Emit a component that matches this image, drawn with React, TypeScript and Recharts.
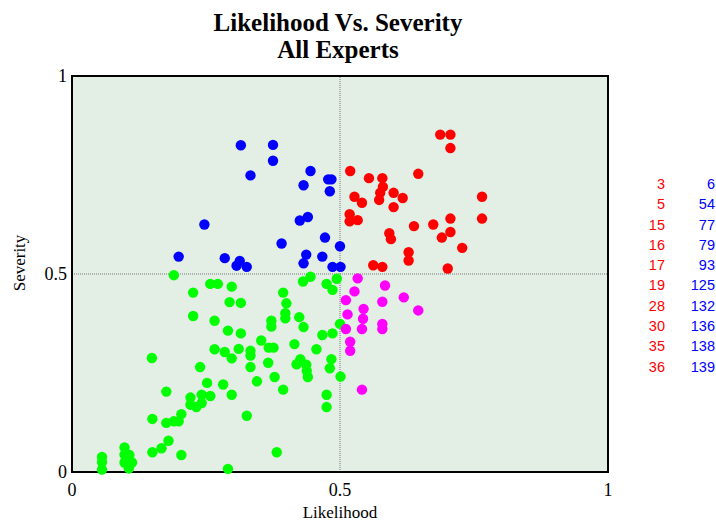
import React from 'react';
import {
  ScatterChart,
  Scatter,
  XAxis,
  YAxis,
  CartesianGrid,
  ReferenceLine,
  ReferenceArea,
} from 'recharts';

type Pt = { x: number; y: number };

const pts = (rows: number[][]): Pt[] => rows.map(([x, y]) => ({ x, y }));

// quadrant groups
const bluePoints = pts([
  [0.315, 0.825], [0.375, 0.826], [0.375, 0.786], [0.333, 0.749], [0.445, 0.76],
  [0.478, 0.739], [0.484, 0.739], [0.432, 0.724], [0.481, 0.709], [0.247, 0.625],
  [0.425, 0.635], [0.44, 0.644], [0.391, 0.577], [0.472, 0.592], [0.5, 0.57],
  [0.199, 0.544], [0.285, 0.54], [0.313, 0.533], [0.307, 0.521], [0.326, 0.518],
  [0.437, 0.549], [0.432, 0.527], [0.467, 0.544], [0.486, 0.518], [0.501, 0.518],
]);

const redPoints = pts([
  [0.687, 0.852], [0.706, 0.852], [0.706, 0.818], [0.519, 0.76], [0.646, 0.753],
  [0.554, 0.742], [0.579, 0.742], [0.58, 0.72], [0.575, 0.705], [0.573, 0.687],
  [0.6, 0.705], [0.617, 0.692], [0.6, 0.669], [0.527, 0.695], [0.541, 0.68],
  [0.765, 0.695], [0.765, 0.64], [0.706, 0.64], [0.518, 0.651], [0.518, 0.633],
  [0.533, 0.636], [0.638, 0.621], [0.674, 0.625], [0.706, 0.606], [0.69, 0.592],
  [0.592, 0.603], [0.595, 0.588], [0.728, 0.566], [0.628, 0.555], [0.628, 0.534],
  [0.562, 0.522], [0.579, 0.518], [0.701, 0.514],
]);

const greenPoints = pts([
  [0.19, 0.497], [0.258, 0.475], [0.272, 0.475], [0.298, 0.468], [0.226, 0.453],
  [0.294, 0.429], [0.315, 0.427], [0.226, 0.394], [0.266, 0.382], [0.291, 0.357],
  [0.315, 0.35], [0.353, 0.332], [0.266, 0.31], [0.285, 0.303], [0.311, 0.311],
  [0.333, 0.306], [0.333, 0.294], [0.298, 0.287], [0.367, 0.314], [0.376, 0.314],
  [0.366, 0.276], [0.333, 0.265], [0.378, 0.24], [0.345, 0.229], [0.149, 0.288],
  [0.239, 0.265], [0.252, 0.225], [0.282, 0.221], [0.176, 0.203], [0.242, 0.195],
  [0.258, 0.192], [0.221, 0.188], [0.221, 0.17], [0.232, 0.164], [0.242, 0.174],
  [0.298, 0.195], [0.326, 0.142], [0.204, 0.146], [0.15, 0.134], [0.176, 0.124],
  [0.19, 0.128], [0.199, 0.128], [0.18, 0.079], [0.167, 0.06], [0.15, 0.05],
  [0.204, 0.043], [0.382, 0.05], [0.291, 0.008], [0.098, 0.062], [0.098, 0.044],
  [0.107, 0.043], [0.098, 0.024], [0.112, 0.024], [0.106, 0.009], [0.056, 0.038],
  [0.056, 0.025], [0.056, 0.006], [0.394, 0.453], [0.4, 0.426], [0.398, 0.401],
  [0.398, 0.388], [0.372, 0.382], [0.372, 0.367], [0.424, 0.391], [0.432, 0.366],
  [0.415, 0.323], [0.426, 0.285], [0.419, 0.272], [0.437, 0.271], [0.438, 0.255],
  [0.44, 0.24], [0.394, 0.208], [0.431, 0.481], [0.445, 0.493], [0.475, 0.475],
  [0.486, 0.46], [0.494, 0.488], [0.467, 0.346], [0.486, 0.35], [0.456, 0.31],
  [0.484, 0.285], [0.481, 0.262], [0.5, 0.374], [0.501, 0.241], [0.475, 0.195],
  [0.475, 0.164],
]);

const magentaPoints = pts([
  [0.533, 0.489], [0.584, 0.471], [0.527, 0.456], [0.511, 0.434], [0.579, 0.43],
  [0.619, 0.441], [0.646, 0.408], [0.544, 0.412], [0.543, 0.387], [0.514, 0.398],
  [0.511, 0.361], [0.541, 0.361], [0.579, 0.374], [0.579, 0.361], [0.519, 0.329],
  [0.519, 0.306], [0.541, 0.208],
]);

const axisTicks = [0, 0.5, 1];
const redIds = [3, 5, 15, 16, 17, 19, 28, 30, 35, 36];
const blueIds = [6, 54, 77, 79, 93, 125, 132, 136, 138, 139];

const serif = '"Liberation Serif", "Times New Roman", serif';

const dot = (fill: string) => (p: any) => (
  <circle cx={p.cx} cy={p.cy} r={5.2} fill={fill} />
);

export default function App() {
  return (
    <div style={{ position: 'relative', width: 716, height: 524, background: '#fff' }}>
      <style>{'body{margin:0}'}</style>
      <div
        style={{
          position: 'absolute',
          left: 0,
          width: 676,
          top: 9,
          textAlign: 'center',
          fontFamily: serif,
          fontWeight: 'bold',
          fontSize: 25,
          lineHeight: '27px',
        }}
      >
        Likelihood Vs. Severity
        <br />
        All Experts
      </div>
      <ScatterChart
        width={716}
        height={524}
        margin={{ top: 76, right: 108, bottom: 22, left: 12 }}
      >
        <CartesianGrid horizontal={false} vertical={false} fill='#e3eee5' />
        <XAxis
          type='number'
          dataKey='x'
          domain={[0, 1]}
          ticks={axisTicks}
          tickFormatter={(v) => String(v)}
          height={30}
          tickLine={false}
          tickSize={6}
          tickMargin={5}
          axisLine={{ stroke: '#000', strokeWidth: 2 }}
          tick={{ fill: '#000', fontFamily: serif, fontSize: 18 }}
        />
        <YAxis
          type='number'
          dataKey='y'
          domain={[0, 1]}
          ticks={axisTicks}
          tickFormatter={(v) => String(v)}
          width={60}
          tickLine={false}
          tickSize={3}
          tickMargin={2}
          axisLine={{ stroke: '#000', strokeWidth: 2 }}
          tick={{ fill: '#000', fontFamily: serif, fontSize: 18 }}
        />
        <ReferenceArea x1={0} x2={1} y1={0} y2={1} fill='none' stroke='#000' strokeWidth={2} />
        <ReferenceLine x={0.5} stroke='#777' strokeDasharray='1 1' />
        <ReferenceLine y={0.5} stroke='#777' strokeDasharray='1 1' />
        <Scatter data={greenPoints} shape={dot('#00ff00')} isAnimationActive={false} />
        <Scatter data={bluePoints} shape={dot('#0000ff')} isAnimationActive={false} />
        <Scatter data={redPoints} shape={dot('#ff0000')} isAnimationActive={false} />
        <Scatter data={magentaPoints} shape={dot('#ff00ff')} isAnimationActive={false} />
      </ScatterChart>
      <div
        style={{
          position: 'absolute',
          left: 290,
          width: 100,
          top: 503,
          textAlign: 'center',
          fontFamily: serif,
          fontSize: 17,
        }}
      >
        Likelihood
      </div>
      <div
        style={{
          position: 'absolute',
          left: -30,
          top: 253,
          width: 100,
          textAlign: 'center',
          fontFamily: serif,
          fontSize: 17,
          transform: 'rotate(-90deg)',
        }}
      >
        Severity
      </div>
      <div
        style={{
          position: 'absolute',
          left: 619,
          top: 174,
          fontFamily: '"Liberation Sans", Arial, sans-serif',
          fontSize: 14.5,
          lineHeight: '20.3px',
        }}
      >
        {redIds.map((id, i) => (
          <div key={id} style={{ display: 'flex' }}>
            <span style={{ width: 46, textAlign: 'right', color: '#ff0000' }}>{id}</span>
            <span style={{ width: 50, textAlign: 'right', color: '#0000ff' }}>{blueIds[i]}</span>
          </div>
        ))}
      </div>
    </div>
  );
}
